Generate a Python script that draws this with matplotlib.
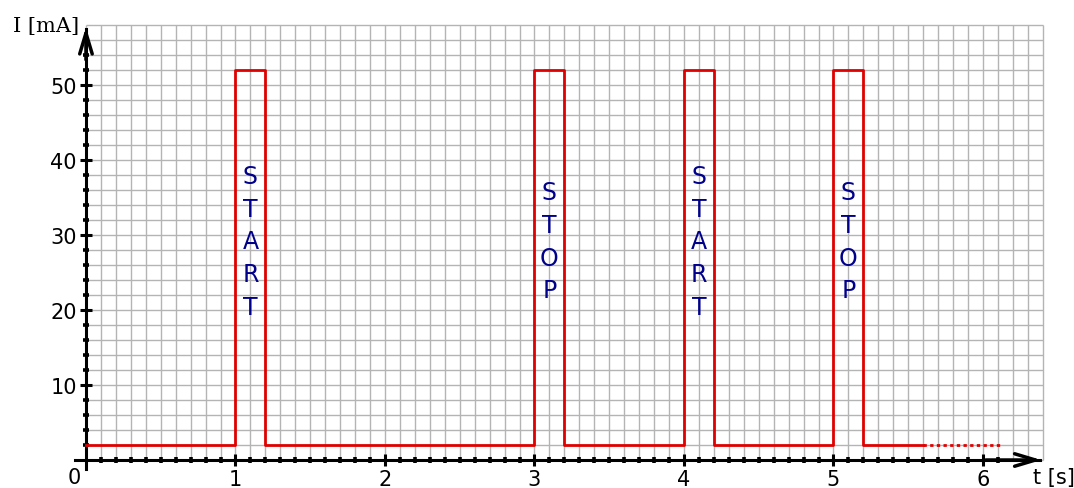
import matplotlib
matplotlib.use("Agg")
import matplotlib.pyplot as plt
import numpy as np

# signal: current in mA over time in s
t_solid = [0, 1, 1, 1.2, 1.2, 3, 3, 3.2, 3.2, 4, 4, 4.2, 4.2, 5, 5, 5.2, 5.2, 5.6]
i_solid = [2, 2, 52, 52, 2, 2, 52, 52, 2, 2, 52, 52, 2, 2, 52, 52, 2, 2]
t_dotted = [5.6, 6.13]
i_dotted = [2, 2]

# vertical word labels inside the pulses
words = ["START", "STOP", "START", "STOP"]
word_x = [1.1, 3.1, 4.1, 5.1]
word_top = [39.5, 37.3, 39.5, 37.3]

x_ticks = [1, 2, 3, 4, 5, 6]
y_ticks = [10, 20, 30, 40, 50]

fig = plt.figure(figsize=(10.74, 4.89), dpi=100)
ax = fig.add_axes([0, 0, 1, 1])
ax.set_xlim(-0.575, 6.609)
ax.set_ylim(-3.733, 61.47)

# grid paper
grid_c = "#b4b4b4"
ax.vlines(np.arange(0, 6.41, 0.1), 0, 58, colors=grid_c, linewidth=1.0, zorder=0)
ax.hlines(np.arange(0, 58.1, 2), 0, 6.4, colors=grid_c, linewidth=1.0, zorder=0)

# axes through the origin
for side in ["top", "right"]:
    ax.spines[side].set_visible(False)
ax.spines["left"].set_position(("data", 0))
ax.spines["bottom"].set_position(("data", 0))
ax.spines["left"].set_bounds(-1.2, 57.5)
ax.spines["bottom"].set_bounds(-0.07, 6.38)
for side in ["left", "bottom"]:
    ax.spines[side].set_linewidth(2.2)
    ax.spines[side].set_zorder(3)

ax.set_xticks(x_ticks)
ax.set_yticks(y_ticks)
ax.set_xticks(np.arange(0.1, 6.15, 0.1), minor=True)
ax.set_yticks(np.arange(2, 54.5, 2), minor=True)
ax.tick_params(which="major", direction="inout", length=9, width=2.2,
               labelsize=15, pad=2)
ax.tick_params(which="minor", direction="inout", length=4, width=2.6)
ax.tick_params(axis="x", which="major", pad=2)

# arrow heads
ax.annotate("", xy=(0, 58.1), xytext=(0, 53),
            arrowprops=dict(arrowstyle="->,head_length=1.5,head_width=0.45",
                            lw=2.5, color="black"), zorder=4)
ax.annotate("", xy=(6.41, 0), xytext=(6.0, 0),
            arrowprops=dict(arrowstyle="->,head_length=1.5,head_width=0.45",
                            lw=2.5, color="black"), zorder=4)

ax.text(-0.075, -0.9, "0", fontsize=15, ha="center", va="top")
ax.text(-0.045, 58.0, "I [mA]", fontsize=15, family="DejaVu Serif",
        ha="right", va="center")
ax.text(6.475, -2.3, "t [s]", fontsize=15, ha="center", va="center")

# signal
ax.plot(t_solid, i_solid, color="#e00000", linewidth=2.0, zorder=5)
ax.plot(t_dotted, i_dotted, color="#e00000", linewidth=2.0,
        linestyle=(0, (1.2, 1.2)), zorder=5)

for w, x, y in zip(words, word_x, word_top):
    ax.text(x, y, "\n".join(w), fontsize=17, color="#00008b",
            ha="center", va="top", multialignment="center",
            linespacing=1.46, zorder=6)

fig.savefig("out.png", dpi=100)
